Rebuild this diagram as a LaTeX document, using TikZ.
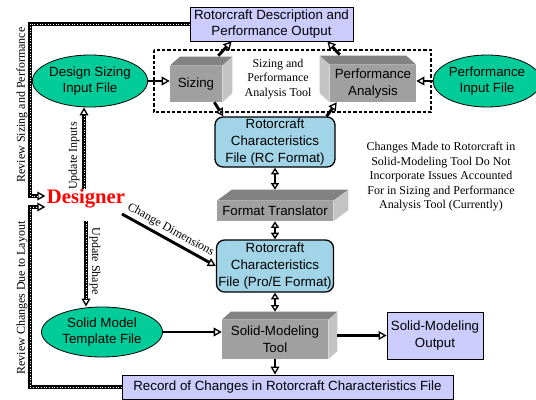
\documentclass[tikz,border=0pt]{standalone}
\usepackage{fontspec}
\setmainfont{Liberation Serif}
\setsansfont{Liberation Sans}
\usepackage{tikz}
\usetikzlibrary{shapes.geometric, arrows.meta}

\definecolor{lavender}{RGB}{204,204,255}
\definecolor{filegreen}{RGB}{0,204,153}
\definecolor{rcblue}{RGB}{160,212,230}
\definecolor{cubefront}{RGB}{160,160,160}
\definecolor{cubetop}{RGB}{130,130,130}
\definecolor{cubeside}{RGB}{196,196,196}

% top and side faces of a tool block: node, dx, dy, side
\newcommand{\drawcube}[4]{%
  \fill[cubetop] (#1.north west) -- ++(#2,-#3) -- ([shift={(#2,-#3)}]#1.north east) -- (#1.north east) -- cycle;
  \fill[cubeside] (#1.north #4) -- ++(#2,-#3) -- ([shift={(#2,-#3)}]#1.south #4) -- (#1.south #4) -- cycle;
}

\begin{document}
\begin{tikzpicture}[
 x=0.75pt, y=-0.75pt,
 every node/.style={font=\sffamily\fontsize{10}{12.5}\selectfont, align=center, inner sep=0pt},
 infile/.style={ellipse, draw, fill=filegreen, line width=0.6pt},
 outbox/.style={rectangle, draw, fill=lavender, line width=0.6pt},
 rcfile/.style={rectangle, rounded corners=6pt, draw, line width=1pt, fill=rcblue},
 tool/.style={rectangle, fill=cubefront},
 arr/.style={line width=2.2pt, -{Triangle[open, length=6pt, width=6.5pt, line width=1pt]}},
 darr/.style={line width=1.6pt, {Triangle[open, length=5pt, width=6pt, line width=1pt]}-{Triangle[open, length=5pt, width=6pt, line width=1pt]}},
 feedback/.style={arr, line width=2.4pt, postaction={draw=white, -, line width=0.45pt, dash pattern=on 0.5pt off 1.5pt, shorten >=6pt}},
 lbl/.style={font=\rmfamily\fontsize{9}{10.9}\selectfont},
]
\useasboundingbox (0,0) rectangle (536,400);

% analysis tool frame
\draw[dash pattern=on 2.5pt off 1.5pt, line width=0.9pt] (154,50) rectangle (431,112);
\node[lbl] (toollbl) at (278,79) {Sizing and\\Performance\\Analysis Tool};

\node[outbox, minimum width=122.25pt, minimum height=25.5pt] (topbox) at (271.5,24) {Rotorcraft Description and\\Performance Output};
\node[infile, minimum width=77.25pt, minimum height=39pt] (design) at (90,81) {Design Sizing\\Input File};
\node[infile, minimum width=67.5pt, minimum height=39pt] (perfin) at (487,81) {Performance\\Input File};
\node[tool, minimum width=39pt, minimum height=27pt] (sizing) at (196,84) {Sizing};
\node[tool, minimum width=64.5pt, minimum height=27.75pt] (perf) at (373,83.5) {Performance\\Analysis};
\node[rcfile, minimum width=90pt, minimum height=37.5pt] (rc) at (275,142) {Rotorcraft\\Characteristics\\File (RC Format)};
\node[tool, minimum width=87pt, minimum height=15pt] (ft) at (275,211) {Format Translator};
\node[rcfile, minimum width=87.75pt, minimum height=39pt] (proe) at (275,266) {Rotorcraft\\Characteristics\\File (Pro/E Format)};
\node[tool, minimum width=79.5pt, minimum height=29.25pt] (solid) at (275,339.5) {Solid-Modeling\\Tool};
\node[outbox, minimum width=72pt, minimum height=35.25pt] (out) at (435,335.5) {Solid-Modeling\\Output};
\node[outbox, minimum width=248.25pt, minimum height=18pt] (record) at (287.5,387) {Record of Changes in Rotorcraft Characteristics File};
\node[infile, minimum width=90.75pt, minimum height=37.5pt] (template) at (102,332) {Solid Model\\Template File};

\drawcube{sizing}{10}{9}{east}
\drawcube{perf}{-10}{9}{west}
\drawcube{ft}{15}{11}{east}
\drawcube{solid}{9}{8}{east}

\node[font=\rmfamily\bfseries\fontsize{15.5}{18}\selectfont, text=red, inner sep=1pt] (designer) at (86,199) {Designer};

\node[lbl] (note) at (441,177) {Changes Made to Rotorcraft in\\Solid-Modeling Tool Do Not\\Incorporate Issues Accounted\\For in Sizing and Performance\\Analysis Tool (Currently)};

% tool chain
\draw[arr] (design.east) -- (design.east -| sizing.west);
\draw[arr] (perfin.west) -- (perfin.west -| perf.east);
\draw[arr] ([shift={(-4,-10)}]sizing.north east) -- ([shift={(42,0)}]topbox.south west);
\draw[arr] ([shift={(10,-10)}]perf.north west) -- ([shift={(-26,0)}]topbox.south east);
\draw[arr] ([shift={(-8,0)}]sizing.south east) -- ([shift={(9,0)}]rc.north west);
\draw[arr] ([shift={(-9,0)}]rc.north east) -- ([shift={(7,0)}]perf.south west);
\draw[darr] (rc.south) -- ([shift={(0,-11)}]ft.north);
\draw[darr] (ft.south) -- (proe.north);
\draw[darr] (proe.south) -- ([shift={(0,-8)}]solid.north);
\draw[arr] (solid.south) -- (solid.south |- record.north);
\draw[arr] (template.east) -- (template.east -| solid.west);
\draw[arr, shorten <=6.75pt] (out.west -| solid.east) -- (out.west);

% designer loops
\coordinate (fbtop) at (30,196);
\coordinate (fbbot) at (30,207);
\coordinate (upin) at (84,189);
\coordinate (upsh) at (86,221);
\coordinate (chdim) at (122,214);
\draw[feedback] (topbox.west) -| (fbtop) -- (fbtop -| designer.west);
\draw[feedback] (record.west) -| (fbbot) -- (fbbot -| designer.west);
\draw[feedback] (upin) -- (upin |- design.south);
\draw[feedback] (upsh) -- (upsh |- template.north);
\draw[arr] (chdim) -- node[lbl, sloped, above=2pt, pos=0.47] (chlbl) {Change Dimensions} (proe.west);

\node[lbl, rotate=90] (revsize) at (22,105) {Review Sizing and Performance};
\node[lbl, rotate=90] (revlay) at (22,298) {Review Changes Due to Layout};
\node[lbl, rotate=90] (upinlbl) at (74,156) {Update Inputs};
\node[lbl, rotate=-90] (upshlbl) at (95,261) {Update Shape};
\end{tikzpicture}
\end{document}
